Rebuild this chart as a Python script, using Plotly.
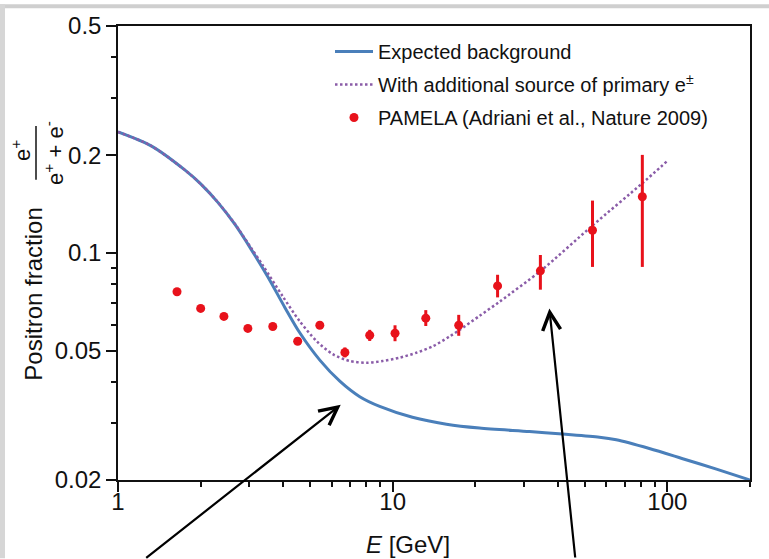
import numpy as np
import plotly.graph_objects as go

# ---------------- data ----------------
bg_E = [1, 1.32, 1.75, 2.0, 2.31, 2.67, 3.05, 3.51, 4.05, 4.59, 5.43, 6.42, 7.59, 8.97,
        11.8, 15.7, 20.7, 31.5, 41.5, 56.6, 65.2, 86.0, 113, 151, 200]
bg_frac = [0.236, 0.2138, 0.1803, 0.1633, 0.1432, 0.1222, 0.1028, 0.0845, 0.0680, 0.0568, 0.0468,
           0.0403, 0.0361, 0.0337, 0.0312, 0.0297, 0.0289, 0.0282, 0.0277, 0.0271, 0.0266,
           0.0250, 0.0233, 0.0216, 0.0200]

src_E = [1, 1.32, 1.75, 2.0, 2.31, 2.67, 3.05, 3.37, 3.98, 4.59, 5.29, 6.05, 6.98, 8.04,
         9.2, 10.6, 12.2, 14.0, 16.1, 17.5, 20.7, 24.5, 34.8, 53.4, 81.1, 100]
src_frac = [0.236, 0.2138, 0.1803, 0.1633, 0.1433, 0.1226, 0.1038, 0.0915, 0.0735, 0.0616, 0.0535,
            0.0488, 0.0465, 0.0459, 0.0465, 0.0476, 0.0493, 0.0516, 0.0553, 0.0579, 0.0640,
            0.0708, 0.0885, 0.1215, 0.1640, 0.192]

pam_E = [1.64, 2.0, 2.43, 2.97, 3.66, 4.51, 5.43, 6.7, 8.25, 10.2, 13.2, 17.4, 24.1, 34.5, 53.4, 81.1]
pam_frac = [0.076, 0.0675, 0.0638, 0.0586, 0.0594, 0.0535, 0.0599, 0.0494, 0.0558, 0.0566,
            0.0630, 0.0599, 0.0792, 0.0881, 0.1175, 0.149]
pam_err_up = [0.0008, 0.0008, 0.0008, 0.0008, 0.0008, 0.0008, 0.0009, 0.0018, 0.0022, 0.0033,
              0.0037, 0.0046, 0.0065, 0.0105, 0.0275, 0.0515]
pam_err_dn = [0.0008, 0.0008, 0.0008, 0.0008, 0.0008, 0.0008, 0.0009, 0.0017, 0.0022, 0.0031,
              0.0034, 0.0043, 0.0062, 0.0110, 0.0269, 0.0584]

x_ticks = [1, 10, 100]
x_minor = [2, 3, 4, 5, 6, 7, 8, 9, 20, 30, 40, 50, 60, 70, 80, 90, 200]
y_ticks = [0.02, 0.05, 0.1, 0.2, 0.5]
y_ticklabels = ["0.02", "0.05", "0.1", "0.2", "0.5"]
y_minor = [0.03, 0.04, 0.06, 0.07, 0.08, 0.09, 0.3, 0.4]

# arrow heads (data coordinates)
arrow_heads = [(6.47, 0.0341), (37.2, 0.0675)]
arrow_tails_px = [(-196, 165), (26, 264)]

# ---------------- layout geometry ----------------
W, H = 769, 559
ML, MR, MT, MB = 118, 19, 22, 79
PW, PH = W - ML - MR, H - MT - MB


def px2x(px):
    return (px - ML) / PW


def py2y(py):
    return (H - MB - py) / PH


FONT = "Arial, Liberation Sans, Helvetica, sans-serif"
BLUE = "#4a7fba"
PURPLE = "#8a5ca8"
RED = "#e8121b"

fig = go.Figure()
fig.add_trace(go.Scatter(x=bg_E, y=bg_frac, mode="lines", name="Expected background",
                         line=dict(color=BLUE, width=3, shape="spline", smoothing=0.8),
                         legendgroup="a"))
fig.add_trace(go.Scatter(x=src_E, y=src_frac, mode="lines",
                         name="With additional source of primary e<sup>±</sup>",
                         line=dict(color=PURPLE, width=2.5, dash="2.5px,2.5px", shape="spline",
                                   smoothing=0.8),
                         legendgroup="b"))
fig.add_trace(go.Scatter(x=pam_E, y=pam_frac, mode="markers",
                         name="PAMELA (Adriani et al., Nature 2009)",
                         marker=dict(color=RED, size=9),
                         error_y=dict(type="data", symmetric=False, array=pam_err_up,
                                      arrayminus=pam_err_dn, color=RED, thickness=3, width=0),
                         legendgroup="c"))

annotations = []
for (hx, hy), (ax, ay) in zip(arrow_heads, arrow_tails_px):
    annotations.append(dict(x=np.log10(hx), y=np.log10(hy), xref="x", yref="y", text="",
                            showarrow=True, arrowhead=5, arrowsize=1.6, arrowwidth=2.2,
                            arrowcolor="black", ax=ax, ay=ay, standoff=0))

annotations += [
    dict(x=px2x(408), y=py2y(545), xref="paper", yref="paper", showarrow=False,
         text="<i>E</i> [GeV]", font=dict(size=24, family=FONT, color="#111"),
         xanchor="center", yanchor="middle"),
    dict(x=px2x(34), y=py2y(293), xref="paper", yref="paper", showarrow=False,
         text="Positron fraction", textangle=-90, font=dict(size=24, family=FONT, color="#111"),
         xanchor="center", yanchor="middle"),
    dict(x=px2x(21), y=py2y(147), xref="paper", yref="paper", showarrow=False,
         text="e<sup>+</sup>", textangle=-90, font=dict(size=22, family=FONT, color="#111"),
         xanchor="center", yanchor="middle"),
    dict(x=px2x(54), y=py2y(150), xref="paper", yref="paper", showarrow=False,
         text="e<sup>+</sup> + e<sup>-</sup>", textangle=-90,
         font=dict(size=22, family=FONT, color="#111"),
         xanchor="center", yanchor="middle"),
]

shapes = [
    # fraction bar
    dict(type="line", xref="paper", yref="paper", x0=px2x(36), x1=px2x(36),
         y0=py2y(123), y1=py2y(177), line=dict(color="#111", width=1.5)),
    # slide background strips
    dict(type="rect", xref="paper", yref="paper", x0=px2x(0), x1=px2x(W), y0=py2y(0), y1=py2y(4),
         fillcolor="#cfcfcf", line=dict(width=0), layer="below"),
    dict(type="rect", xref="paper", yref="paper", x0=px2x(0), x1=px2x(5), y0=py2y(0), y1=py2y(H),
         fillcolor="#d6d6d6", line=dict(width=0), layer="below"),
]

fig.update_layout(
    width=W, height=H,
    margin=dict(l=ML, r=MR, t=MT, b=MB),
    paper_bgcolor="white", plot_bgcolor="white",
    font=dict(family=FONT, color="#111", size=24),
    showlegend=True,
    legend=dict(x=px2x(330), y=py2y(28), xanchor="left", yanchor="top",
                bgcolor="rgba(0,0,0,0)", font=dict(size=20, family=FONT, color="#111"),
                itemwidth=38, tracegroupgap=4, traceorder="grouped"),
    annotations=annotations,
    shapes=shapes,
)

fig.update_xaxes(type="log", range=[0, np.log10(200)], tickvals=x_ticks,
                 ticktext=[str(v) for v in x_ticks], ticks="outside", ticklen=10, tickwidth=1.5,
                 tickcolor="#111", showline=True, linecolor="#111", linewidth=1.5, mirror=True,
                 showgrid=False, zeroline=False, tickfont=dict(size=24), ticklabelstandoff=-11,
                 minor=dict(tickvals=x_minor, ticks="outside", ticklen=5, tickwidth=1.5,
                            tickcolor="#111", showgrid=False))
fig.update_yaxes(type="log", range=[np.log10(0.02), np.log10(0.5)], tickvals=y_ticks,
                 ticktext=y_ticklabels, ticks="outside", ticklen=10, tickwidth=1.5,
                 tickcolor="#111", showline=True, linecolor="#111", linewidth=1.5, mirror=True,
                 showgrid=False, zeroline=False, tickfont=dict(size=24),
                 minor=dict(tickvals=y_minor, ticks="outside", ticklen=5, tickwidth=1.5,
                            tickcolor="#111", showgrid=False))

fig.write_html("out.html")
